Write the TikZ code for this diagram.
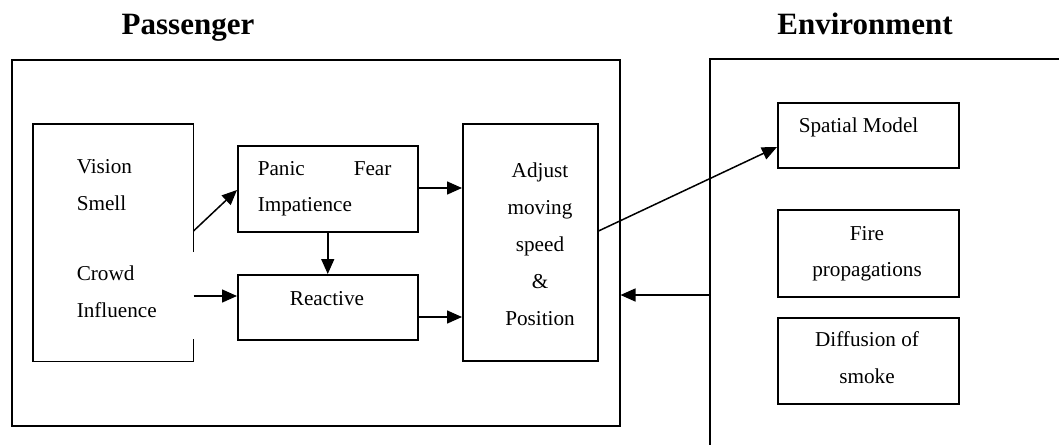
\documentclass[tikz,border=0pt]{standalone}
\usepackage{fontspec}
\setmainfont{Liberation Serif}
\usetikzlibrary{arrows.meta}
\begin{document}
\begin{tikzpicture}[x=1pt,y=-1pt,
  line width=1.5pt,
  box/.style={draw,rectangle,inner sep=0pt,anchor=north west},
  txt/.style={inner sep=0pt,font=\fontsize{21.2}{25}\selectfont},
  ttl/.style={inner sep=0pt,anchor=base,font=\fontsize{31}{36}\selectfont\bfseries},
  arr/.style={-{Triangle[length=15pt,width=13pt]}}]
\useasboundingbox (0,0) rectangle (1059,445);
% titles
\node[ttl] (tpass) at (188,34) {Passenger};
\node[ttl] (tenv) at (865,34) {Environment};
% outer boxes
\node[box,minimum width=608pt,minimum height=366pt] (pass) at (11,59) {};
\draw (1059,59) -- (710,59) -- (710,445);
\coordinate (envL) at (710,295);
% sense box (right edge has a gap)
\node[inner sep=0pt,minimum width=159pt,minimum height=236pt,anchor=north west] (sense) at (33,124) {};
\draw (sense.north east |- 0,252) -- (sense.north east) -- (sense.north west) -- (sense.south west) -- (sense.south east) -- (sense.south east |- 0,339);
\node[txt,anchor=base west] (vision) at (76,173) {Vision};
\node[txt,anchor=base west] (smell) at (76,210.5) {Smell};
\node[txt,anchor=base west] (crowd) at (76,280.5) {Crowd};
\node[txt,anchor=base west] (infl) at (76,317) {Influence};
% panic
\node[box,minimum width=180pt,minimum height=86pt] (panic) at (237,145) {};
\node[txt,anchor=base west] (tpanic) at (257,175) {Panic};
\node[txt,anchor=base west] (tfear) at (353,175) {Fear};
\node[txt,anchor=base west] (timp) at (257,211.5) {Impatience};
% reactive
\node[box,minimum width=180pt,minimum height=65pt] (react) at (237,274) {};
\node[txt,anchor=base] (treact) at (327,305) {Reactive};
% adjust
\node[box,minimum width=135pt,minimum height=237pt] (adjust) at (462,123) {};
\node[txt,anchor=base] (a1) at (540,177.5) {Adjust};
\node[txt,anchor=base] (a2) at (540,214) {moving};
\node[txt,anchor=base] (a3) at (540,251) {speed};
\node[txt,anchor=base] (a4) at (540,288) {\&};
\node[txt,anchor=base] (a5) at (540,325) {Position};
% environment boxes
\node[box,minimum width=181pt,minimum height=65pt] (spatial) at (777,102) {};
\node[txt,anchor=base west] (tspat) at (798,132.5) {Spatial Model};
\node[box,minimum width=181pt,minimum height=87pt] (fire) at (777,209) {};
\node[txt,anchor=base] (tfire1) at (867,240) {Fire};
\node[txt,anchor=base] (tfire2) at (867,276.5) {propagations};
\node[box,minimum width=181pt,minimum height=86pt] (diff) at (777,317) {};
\node[txt,anchor=base] (tdiff1) at (867,346.5) {Diffusion of};
\node[txt,anchor=base] (tdiff2) at (867,383) {smoke};
% connectors
\draw[arr] (sense.east |- 0,231) -- (panic.west |- 0,190);
\draw[arr] (sense.east |- 0,296) -- (react.west |- 0,296);
\draw[arr] (panic.south) -- (react.north);
\draw[arr] (panic.east |- 0,188) -- (adjust.west |- 0,188);
\draw[arr] (react.east |- 0,317) -- (adjust.west |- 0,317);
\draw[arr] (adjust.east |- 0,231) -- (spatial.west |- 0,147);
\draw[arr] (envL) -- (pass.east |- envL);
\end{tikzpicture}
\end{document}
